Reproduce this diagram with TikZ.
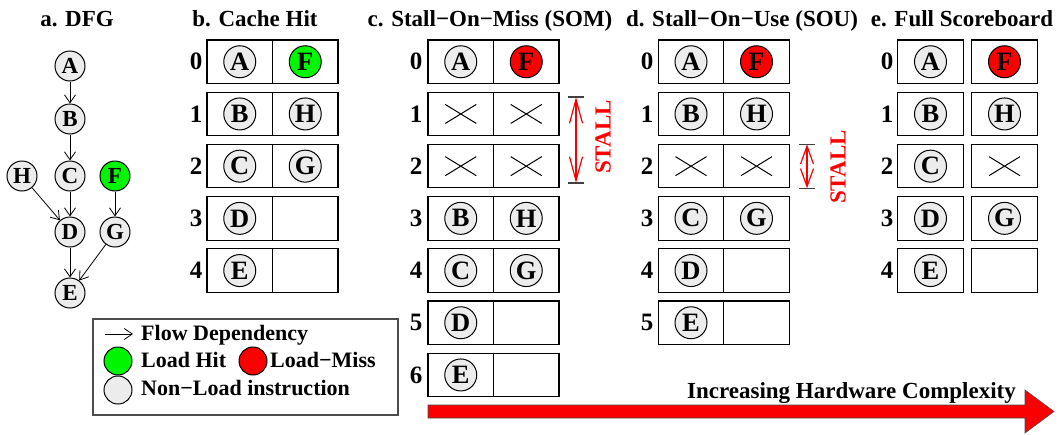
\documentclass[tikz,border=0pt]{standalone}
\usepackage{fontspec}
\setmainfont{Liberation Serif}
\usetikzlibrary{shapes.misc,arrows.meta}

\definecolor{nlgray}{RGB}{236,236,236}
\definecolor{hitgreen}{RGB}{0,245,0}
\definecolor{missred}{RGB}{250,0,0}

\newcommand{\ttlfont}{\bfseries\fontsize{23}{25}\selectfont}
\newcommand{\numfont}{\bfseries\fontsize{25}{27}\selectfont}
\newcommand{\insfont}{\bfseries\fontsize{26.5}{28}\selectfont}
\newcommand{\dfgfont}{\bfseries\fontsize{23}{25}\selectfont}
\newcommand{\legfont}{\bfseries\fontsize{22}{24}\selectfont}

\tikzset{
	ttl/.style={anchor=base,font=\ttlfont},
	rownum/.style={font=\numfont,inner sep=0pt},
	cell/.style={draw,line width=1.1pt,minimum width=65.5pt,minimum height=43.5pt,inner sep=0pt},
	ins/.style={circle,draw,line width=1pt,fill=nlgray,minimum size=32pt,inner sep=0pt,font=\insfont},
	dfgnode/.style={circle,draw,line width=1pt,fill=nlgray,minimum size=30pt,inner sep=0pt,font=\dfgfont},
	legdot/.style={circle,draw,line width=1pt,minimum size=28pt,inner sep=0pt},
	nop/.style={cross out,draw,line width=1pt,minimum width=30pt,minimum height=18pt,inner sep=0pt},
	flow/.style={line width=0.8pt,-{Straight Barb[length=8pt,width=11pt]}},
	stall/.style={draw=missred,line width=1.2pt,{Straight Barb[length=#1,width=13pt]}-{Straight Barb[length=#1,width=13pt]}},
	stallbar/.style={draw=black!75,line width=1.2pt},
	stalltxt/.style={rotate=90,text=missred,font=\ttlfont,inner sep=0pt}
}

\begin{document}
\begin{tikzpicture}[x=1pt,y=-1pt]
	\useasboundingbox (0,0) rectangle (1062,434);

	% titles
	\node[ttl] (ta) at (77,26) {a. DFG};
	\node[ttl] (tb) at (255,26) {b. Cache Hit};
	\node[ttl] (tc) at (490,26) {c. Stall−On−Miss (SOM)};
	\node[ttl] (td) at (742,26) {d. Stall−On−Use (SOU)};
	\node[ttl] (te) at (962,26) {e. Full Scoreboard};

	% a. data flow graph
	\begin{scope}[every node/.style={dfgnode}]
		\node (A) at (70,66) {A};
		\node (B) at (70,119) {B};
		\node (C) at (70,176) {C};
		\node (H) at (22,176) {H};
		\node[fill=hitgreen] (F) at (115,176) {F};
		\node (D) at (70,232) {D};
		\node (G) at (115,232) {G};
		\node (E) at (70,293) {E};
	\end{scope}

	\begin{scope}[every edge/.style={draw=black,flow}]
		\path (A) edge (B);
		\path (B) edge (C);
		\path (C) edge (D);
		\path (H) edge (D);
		\path (F) edge (G);
		\path (D) edge (E);
		\path (G) edge (E);
	\end{scope}

	% b. cache hit
	\foreach \i in {0,...,4} {
		\node[rownum] (bn\i) at (196,{61.75+52.2*\i}) {\i};
		\node[cell] (bl\i) at (239.75,{61.75+52.2*\i}) {};
		\node[cell] (br\i) at (305.25,{61.75+52.2*\i}) {};
	}
	\node[ins] (bA) at (bl0) {A};
	\node[ins,fill=hitgreen] (bF) at (br0) {F};
	\node[ins] (bB) at (bl1) {B};
	\node[ins] (bH) at (br1) {H};
	\node[ins] (bC) at (bl2) {C};
	\node[ins] (bG) at (br2) {G};
	\node[ins] (bD) at (bl3) {D};
	\node[ins] (bE) at (bl4) {E};

	% c. stall on miss
	\foreach \i in {0,...,6} {
		\node[rownum] (cn\i) at (416,{61.75+52.2*\i}) {\i};
		\node[cell] (cl\i) at (460.75,{61.75+52.2*\i}) {};
		\node[cell] (cr\i) at (526.25,{61.75+52.2*\i}) {};
	}
	\node[ins] (cA) at (cl0) {A};
	\node[ins,fill=missred] (cF) at (cr0) {F};
	\node[nop] (cx1) at (cl1) {};
	\node[nop] (cx2) at (cr1) {};
	\node[nop] (cx3) at (cl2) {};
	\node[nop] (cx4) at (cr2) {};
	\node[ins] (cB) at (cl3) {B};
	\node[ins] (cH) at (cr3) {H};
	\node[ins] (cC) at (cl4) {C};
	\node[ins] (cG) at (cr4) {G};
	\node[ins] (cD) at (cl5) {D};
	\node[ins] (cE) at (cl6) {E};

	\coordinate (cs0) at (576,97);
	\coordinate (cs1) at (576,183);
	\draw[stallbar] ([xshift=-8pt]cs0) -- ([xshift=8pt]cs0);
	\draw[stallbar] ([xshift=-8pt]cs1) -- ([xshift=8pt]cs1);
	\draw[stall=24pt] (cs0) -- (cs1);
	\node[stalltxt] (cst) at (603,137) {STALL};

	% d. stall on use
	\foreach \i in {0,...,5} {
		\node[rownum] (dn\i) at (647,{61.75+52.2*\i}) {\i};
		\node[cell] (dl\i) at (691,{61.75+52.2*\i}) {};
		\node[cell] (dr\i) at (756.5,{61.75+52.2*\i}) {};
	}
	\node[ins] (dA) at (dl0) {A};
	\node[ins,fill=missred] (dF) at (dr0) {F};
	\node[ins] (dB) at (dl1) {B};
	\node[ins] (dH) at (dr1) {H};
	\node[nop] (dx1) at (dl2) {};
	\node[nop] (dx2) at (dr2) {};
	\node[ins] (dC) at (dl3) {C};
	\node[ins] (dG) at (dr3) {G};
	\node[ins] (dD) at (dl4) {D};
	\node[ins] (dE) at (dl5) {E};

	\coordinate (ds0) at (807,144.3);
	\coordinate (ds1) at (807,188.3);
	\draw[stallbar] ([xshift=-8pt]ds0) -- ([xshift=8pt]ds0);
	\draw[stallbar] ([xshift=-8pt]ds1) -- ([xshift=8pt]ds1);
	\draw[stall=18pt] (ds0) -- (ds1);
	\node[stalltxt] (dst) at (838,167) {STALL};

	% e. full scoreboard
	\foreach \i in {0,...,4} {
		\node[rownum] (en\i) at (887,{61.75+52.2*\i}) {\i};
		\node[cell] (el\i) at (930.5,{61.75+52.2*\i}) {};
		\node[cell] (er\i) at (1004.5,{61.75+52.2*\i}) {};
	}
	\node[ins] (eA) at (el0) {A};
	\node[ins,fill=missred] (eF) at (er0) {F};
	\node[ins] (eB) at (el1) {B};
	\node[ins] (eH) at (er1) {H};
	\node[ins] (eC) at (el2) {C};
	\node[nop] (ex1) at (er2) {};
	\node[ins] (eD) at (el3) {D};
	\node[ins] (eG) at (er3) {G};
	\node[ins] (eE) at (el4) {E};

	% legend
	\draw[draw=black!70,line width=1.2pt] (93,319) rectangle (398,415);
	\coordinate (fl0) at (105,334);
	\coordinate (fl1) at (133,334);
	\draw[flow] (fl0) -- (fl1);
	\node[anchor=base west,font=\legfont,inner sep=0pt] (lflow) at (141,340) {Flow Dependency};
	\node[legdot,fill=hitgreen] (lhit) at (118,361) {};
	\node[anchor=base west,font=\legfont,inner sep=0pt] (lhitt) at (141,367) {Load Hit};
	\node[legdot,fill=missred] (lmiss) at (253,361) {};
	\node[anchor=base west,font=\legfont,inner sep=0pt] (lmisst) at (270,367) {Load−Miss};
	\node[legdot,fill=nlgray] (lnl) at (118,390) {};
	\node[anchor=base west,font=\legfont,inner sep=0pt] (lnlt) at (141,395) {Non−Load instruction};

	% complexity arrow
	\filldraw[fill=missred,draw=black!70,line width=0.6pt]
		(428,405) -- (1025,405) -- (1025,390) -- (1054,411.5) -- (1025,433) -- (1025,418) -- (428,418) -- cycle;
	\node[ttl] (hw) at (851.5,398) {Increasing Hardware Complexity};
\end{tikzpicture}
\end{document}
